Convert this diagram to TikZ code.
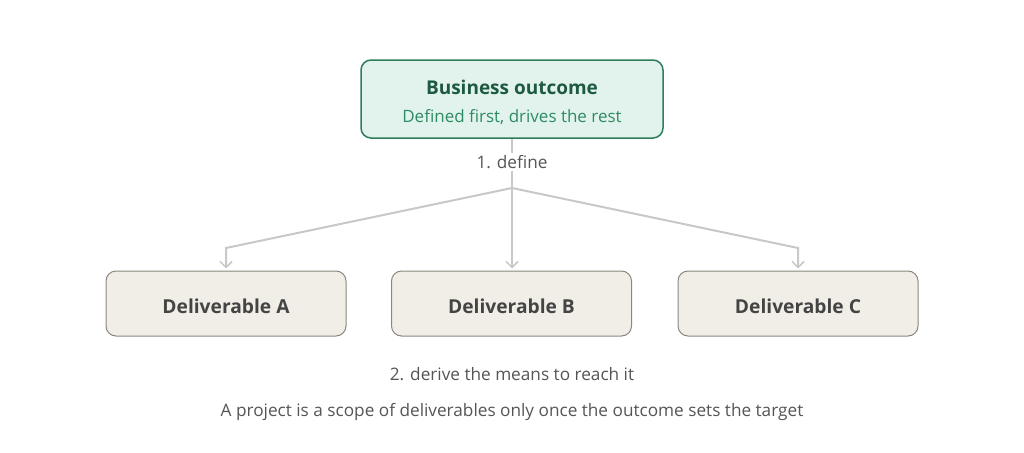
\documentclass[tikz,border=0pt]{standalone}
\usepackage{fontspec}
\setmainfont{Open Sans}
\usepackage{tikz}
\usetikzlibrary{arrows.meta,positioning}
\definecolor{outFill}{HTML}{E1F3EC}
\definecolor{outDraw}{HTML}{2E7D5B}
\definecolor{outText}{HTML}{1E5A42}
\definecolor{outSub}{HTML}{2E8B63}
\definecolor{delFill}{HTML}{F1EEE8}
\definecolor{delDraw}{HTML}{8A8780}
\definecolor{delText}{HTML}{444444}
\definecolor{lineGray}{HTML}{C8C8C8}
\definecolor{noteGray}{HTML}{555555}

\begin{document}
\begin{tikzpicture}[x=1pt,y=-1pt]
  \tikzstyle{OutcomeStyle}=[draw=outDraw,fill=outFill,line width=1.5pt,rounded corners=10pt,
    minimum width=302pt,minimum height=78pt,align=center,font=\fontsize{17}{28}\selectfont]
  \tikzstyle{DeliverableStyle}=[draw=delDraw,fill=delFill,line width=1pt,rounded corners=10pt,
    minimum width=240pt,minimum height=65pt,text height=19pt,text depth=0pt,
    font=\fontsize{19.2}{22}\selectfont\bfseries,text=delText]
  \tikzstyle{NoteStyle}=[text=noteGray,font=\fontsize{17.2}{20}\selectfont,inner sep=2pt]
  \tikzstyle{EdgeStyle}=[draw=lineGray,line width=2pt]
  \tikzstyle{ArrowStyle}=[EdgeStyle,-{Straight Barb[length=6pt,width=12pt,line width=1.5pt]},shorten >=2pt]
  \useasboundingbox (0,0) rectangle (1024,452);
  \node[OutcomeStyle] (outcome) at (512,99)
    {\rule{0pt}{21pt}{\fontsize{19}{24}\selectfont\bfseries\color{outText}Business outcome}\\
     {\color{outSub}Defined first, drives the rest}};
  \node[NoteStyle] (define) at (512,162) {1. define};
  \node[DeliverableStyle] (delA) at (226,303.5) {Deliverable A};
  \node[DeliverableStyle] (delB) at (511.5,303.5) {Deliverable B};
  \node[DeliverableStyle] (delC) at (798,303.5) {Deliverable C};
  \coordinate (fork) at (512,188);
  \coordinate (bendA) at (226,248);
  \coordinate (bendC) at (798,248);
  \draw[EdgeStyle] (outcome.south) -- (define.north);
  \draw[EdgeStyle] (define.south) -- (fork);
  \draw[ArrowStyle] (fork) -- (bendA) -- (delA.north);
  \draw[ArrowStyle] (fork) -- (delB.north -| fork);
  \draw[ArrowStyle] (fork) -- (bendC) -- (delC.north);
  \node[NoteStyle] (means) at (512,374) {2. derive the means to reach it};
  \node[NoteStyle] (caption) at (512,412)
    {A project is a scope of deliverables only once the outcome sets the target};
\end{tikzpicture}
\end{document}
